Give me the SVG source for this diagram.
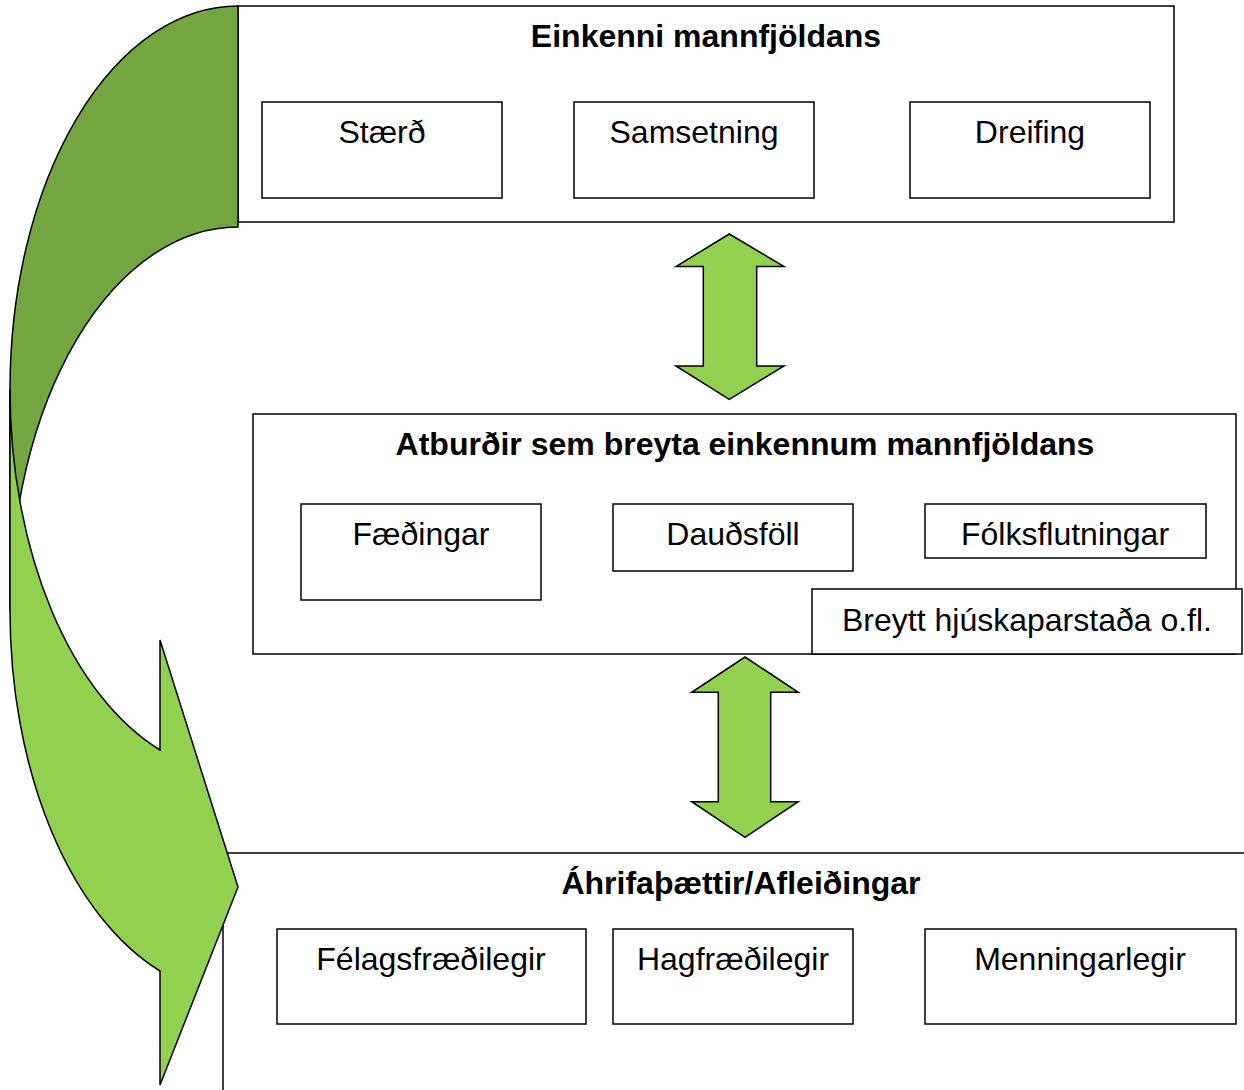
<svg xmlns="http://www.w3.org/2000/svg" width="1244" height="1090" viewBox="0 0 1244 1090">
<style>
.box{fill:#fff;stroke:#000;stroke-width:1.5}
.t{font-family:"Liberation Sans",Arial,sans-serif;font-size:32px;fill:#000;text-anchor:middle}
.b{font-weight:bold}
.lg{fill:#92D050;stroke:#000;stroke-width:1.5;stroke-linejoin:miter}
.dg{fill:#73A640;stroke:#000;stroke-width:1.5}
</style>
<rect width="1244" height="1090" fill="#fff"/>
<g id="node-effects">
<rect class="box" x="223" y="853" width="1040" height="260"/>
<text class="t b" x="741" y="894">Áhrifaþættir/Afleiðingar</text>
<g id="node-felags"><rect class="box" x="277" y="929" width="309" height="95"/><text class="t" x="431" y="970">Félagsfræðilegir</text></g>
<g id="node-hag"><rect class="box" x="613" y="929" width="240" height="95"/><text class="t" x="733" y="970">Hagfræðilegir</text></g>
<g id="node-menn"><rect class="box" x="925" y="929" width="311" height="95"/><text class="t" x="1080" y="970">Menningarlegir</text></g>
</g>
<g id="node-characteristics">
<rect class="box" x="238" y="6" width="936" height="216"/>
<text class="t b" x="706" y="47">Einkenni mannfjöldans</text>
<g id="node-staerd"><rect class="box" x="262" y="102" width="240" height="96"/><text class="t" x="382" y="143">Stærð</text></g>
<g id="node-samsetning"><rect class="box" x="574" y="102" width="240" height="96"/><text class="t" x="694" y="143">Samsetning</text></g>
<g id="node-dreifing"><rect class="box" x="910" y="102" width="240" height="96"/><text class="t" x="1030" y="143">Dreifing</text></g>
</g>
<g id="node-events">
<rect class="box" x="253" y="414" width="983" height="240"/>
<text class="t b" x="745" y="455">Atburðir sem breyta einkennum mannfjöldans</text>
<g id="node-faedingar"><rect class="box" x="301" y="504" width="240" height="96"/><text class="t" x="421" y="545">Fæðingar</text></g>
<g id="node-daudsfoll"><rect class="box" x="613" y="504" width="240" height="67"/><text class="t" x="733" y="545">Dauðsföll</text></g>
<g id="node-folks"><rect class="box" x="925" y="504" width="281" height="54"/><text class="t" x="1065" y="545">Fólksflutningar</text></g>
<g id="node-breytt"><rect class="box" x="812" y="589" width="430" height="65"/><text class="t" x="1027" y="631">Breytt hjúskaparstaða o.fl.</text></g>
</g>
<g id="connectors">
<path class="lg" d="M729.3,234 L784,266.5 L756.7,266.5 L756.7,366 L784,366 L729.3,399.3 L676,366 L703.3,366 L703.3,266.5 L676,266.5 Z"/>
<path class="lg" d="M745,657 L798.3,692.3 L770.7,692.3 L770.7,801.7 L798.3,801.7 L745,837.3 L691.7,801.7 L718.3,801.7 L718.3,692.3 L691.7,692.3 Z"/>
<g id="curved-arrow">
<path class="dg" d="M238,6 A228,383.5 0 0 0 10,389.5 L10,610.5 A228,383.5 0 0 1 238,227 Z"/>
<path class="lg" d="M10,389.5 A228,383.5 0 0 0 160,750 L160,640 L238,887 L160,1085 L160,971 A228,383.5 0 0 1 10,610.5 Z"/>
</g>
</g>
</svg>
